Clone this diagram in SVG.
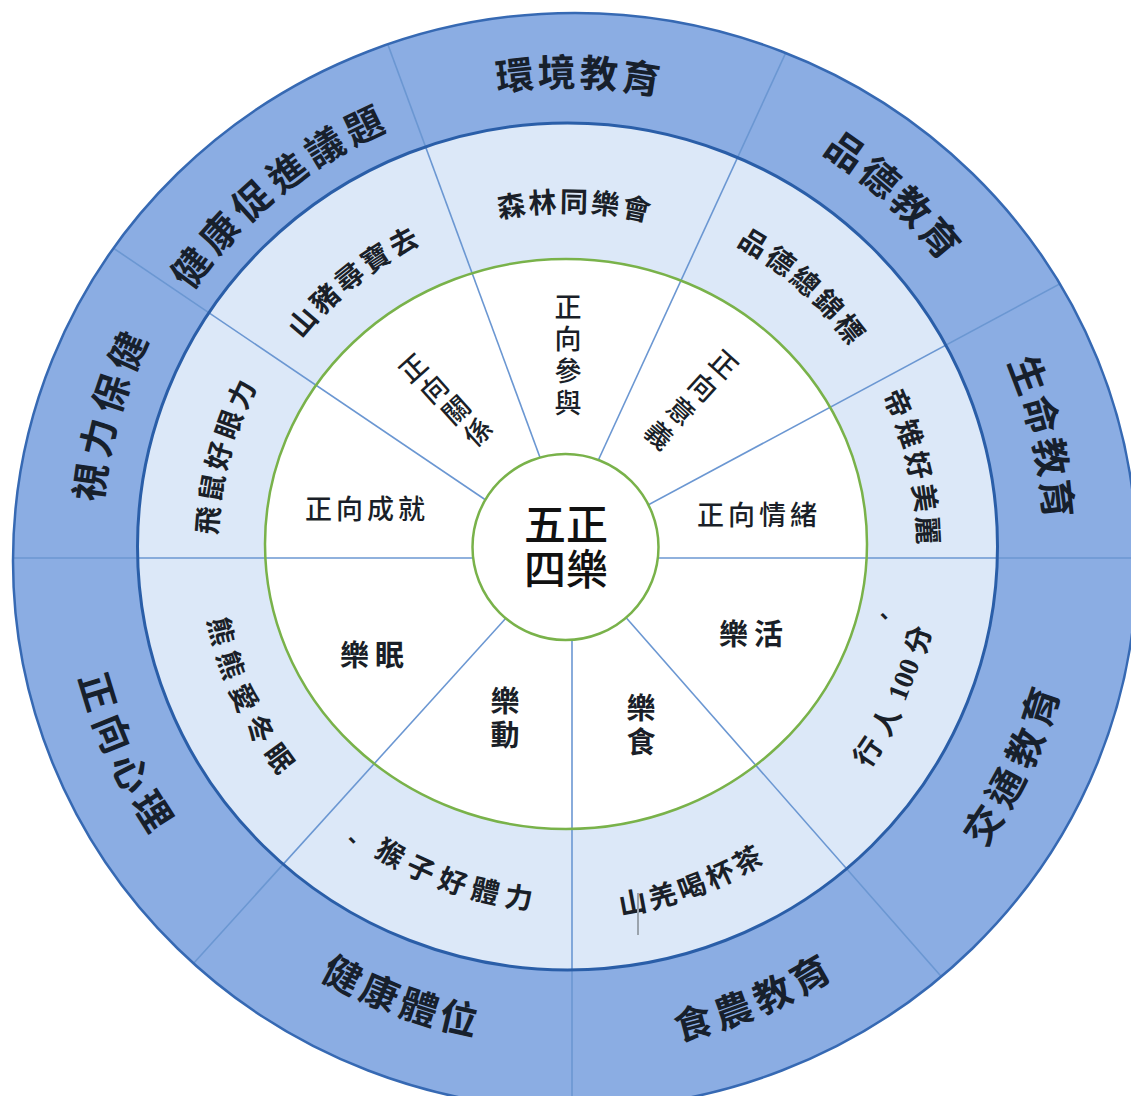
<svg xmlns="http://www.w3.org/2000/svg" width="1131" height="1096" viewBox="0 0 1131 1096">
<defs>
<clipPath id="clipOuter"><ellipse cx="575" cy="561" rx="562" ry="548"/></clipPath>
<style>
text{font-family:"Noto Sans CJK TC","Noto Sans CJK SC",sans-serif;text-anchor:middle;dominant-baseline:central;fill:#1a1f28}
.o text{font-size:38px;font-weight:700;fill:#17202c}
.m text{font-size:28px;font-weight:700}
.i text{font-size:27px;font-weight:500}
.l text{font-size:29px;font-weight:700}
.num{font-family:"Liberation Serif",serif;font-weight:400}
.spoke{stroke:#6b97d2;stroke-width:1.6;fill:none}
</style>
</defs>
<rect width="1131" height="1096" fill="#ffffff"/>
<g id="rings">
<ellipse cx="575" cy="561" rx="562" ry="548" fill="#8badE3"/>
<ellipse cx="567.5" cy="546.5" rx="430" ry="423.5" fill="#dce8f8"/>
<ellipse cx="566" cy="544" rx="301" ry="285" fill="#ffffff"/>
</g>
<g id="connectors" clip-path="url(#clipOuter)">
<line class="spoke" x1="545" y1="471" x2="377" y2="15"/>
<line class="spoke" x1="591" y1="476" x2="799" y2="24"/>
<line class="spoke" x1="635" y1="512" x2="1123" y2="250"/>
<line class="spoke" x1="640" y1="558" x2="1140" y2="558"/>
<line class="spoke" x1="615" y1="605" x2="997" y2="1040"/>
<line class="spoke" x1="572" y1="600" x2="572" y2="1100"/>
<line class="spoke" x1="516" y1="607" x2="126" y2="1038"/>
<line class="spoke" x1="490" y1="558" x2="0" y2="558"/>
<line class="spoke" x1="499" y1="509" x2="-11" y2="164"/>
</g>
<g id="ring-strokes" fill="none">
<ellipse cx="575" cy="561" rx="562" ry="548" stroke="#3669b3" stroke-width="2.5"/>
<ellipse cx="567.5" cy="546.5" rx="430" ry="423.5" stroke="#2a5ea8" stroke-width="3"/>
<ellipse cx="566" cy="544" rx="301" ry="285" stroke="#79b24a" stroke-width="2.5"/>
</g>
<g id="center">
<circle cx="565.5" cy="547" r="93" fill="#ffffff" stroke="#79b24a" stroke-width="2.5"/>
<text style="font-size:42px;font-weight:500;fill:#111"><tspan x="566" y="521">五正</tspan><tspan x="566" y="566">四樂</tspan></text>
</g>
<g id="outer-huanjing" class="o">
<text transform="rotate(-6.32 567 549)" x="567" y="70">環</text>
<text transform="rotate(-1.24 567 549)" x="567" y="70">境</text>
<text transform="rotate(3.84 567 549)" x="567" y="70">教</text>
<text transform="rotate(8.92 567 549)" x="567" y="70">育</text>
</g>
<g id="outer-pinde" class="o">
<text transform="rotate(35.03 567 549)" x="567" y="61">品</text>
<text transform="rotate(40.08 567 549)" x="567" y="61">德</text>
<text transform="rotate(45.13 567 549)" x="567" y="61">教</text>
<text transform="rotate(50.18 567 549)" x="567" y="61">育</text>
</g>
<g id="outer-shengming" class="o">
<text transform="rotate(69.3 567 549)" x="567" y="54">生</text>
<text transform="rotate(74.2 567 549)" x="567" y="54">命</text>
<text transform="rotate(79.2 567 549)" x="567" y="54">教</text>
<text transform="rotate(84.1 567 549)" x="567" y="54">育</text>
</g>
<g id="outer-jiaotong" class="o">
<text transform="rotate(-56.44 567 549)" x="567" y="1046">交</text>
<text transform="rotate(-61.48 567 549)" x="567" y="1046">通</text>
<text transform="rotate(-66.52 567 549)" x="567" y="1046">教</text>
<text transform="rotate(-71.56 567 549)" x="567" y="1046">育</text>
</g>
<g id="outer-shinong" class="o">
<text transform="rotate(-14.9 567 549)" x="567" y="1037">食</text>
<text transform="rotate(-19.8 567 549)" x="567" y="1037">農</text>
<text transform="rotate(-24.8 567 549)" x="567" y="1037">教</text>
<text transform="rotate(-29.7 567 549)" x="567" y="1037">育</text>
</g>
<g id="outer-jiankangtiwei" class="o">
<text transform="rotate(27.8 567 549)" x="567" y="1028">健</text>
<text transform="rotate(22.9 567 549)" x="567" y="1028">康</text>
<text transform="rotate(17.9 567 549)" x="567" y="1028">體</text>
<text transform="rotate(13.0 567 549)" x="567" y="1028">位</text>
</g>
<g id="outer-zhengxiangxinli" class="o">
<text transform="rotate(73.1 567 549)" x="567" y="1037">正</text>
<text transform="rotate(67.9 567 549)" x="567" y="1037">向</text>
<text transform="rotate(62.8 567 549)" x="567" y="1037">心</text>
<text transform="rotate(57.7 567 549)" x="567" y="1037">理</text>
</g>
<g id="outer-shili" class="o">
<text transform="rotate(278.0 567 549)" x="567" y="65">視</text>
<text transform="rotate(283.4 567 549)" x="567" y="65">力</text>
<text transform="rotate(288.8 567 549)" x="567" y="65">保</text>
<text transform="rotate(294.2 567 549)" x="567" y="65">健</text>
</g>
<g id="outer-jiankangcujin" class="o">
<text transform="rotate(306.8 567 549)" x="567" y="77">健</text>
<text transform="rotate(312.3 567 549)" x="567" y="77">康</text>
<text transform="rotate(317.8 567 549)" x="567" y="77">促</text>
<text transform="rotate(323.4 567 549)" x="567" y="77">進</text>
<text transform="rotate(328.9 567 549)" x="567" y="77">議</text>
<text transform="rotate(334.4 567 549)" x="567" y="77">題</text>
</g>
<g id="mid-senlin" class="m">
<text transform="rotate(-9.23 567 549)" x="567" y="200">森</text>
<text transform="rotate(-4.04 567 549)" x="567" y="200">林</text>
<text transform="rotate(1.15 567 549)" x="567" y="200">同</text>
<text transform="rotate(6.34 567 549)" x="567" y="200">樂</text>
<text transform="rotate(11.53 567 549)" x="567" y="200">會</text>
</g>
<g id="mid-pinde" class="m">
<text transform="rotate(31.36 567 549)" x="567" y="189">品</text>
<text transform="rotate(36.53 567 549)" x="567" y="189">德</text>
<text transform="rotate(41.7 567 549)" x="567" y="189">總</text>
<text transform="rotate(46.87 567 549)" x="567" y="189">錦</text>
<text transform="rotate(52.04 567 549)" x="567" y="189">標</text>
</g>
<g id="mid-dizhi" class="m">
<text transform="rotate(66.18 567 549)" x="567" y="186">帝</text>
<text transform="rotate(71.39 567 549)" x="567" y="186">雉</text>
<text transform="rotate(76.6 567 549)" x="567" y="186">好</text>
<text transform="rotate(81.81 567 549)" x="567" y="186">美</text>
<text transform="rotate(87.02 567 549)" x="567" y="186">麗</text>
</g>
<g id="mid-xingren" class="m">
<text transform="rotate(-56 567 549)" x="567" y="910">行</text>
<text transform="rotate(-61.7 567 549)" x="567" y="910">人</text>
<text class="num" transform="rotate(-68.8 567 549)" x="567" y="910">100</text>
<text transform="rotate(-75.5 567 549)" x="567" y="910">分</text>
<text x="884" y="614" style="font-size:22px">、</text>
</g>
<g id="mid-shanqiang" class="m">
<text transform="rotate(-10.5 567 549)" x="567" y="907">山</text>
<text transform="rotate(-15.4 567 549)" x="567" y="907">羌</text>
<text transform="rotate(-20.3 567 549)" x="567" y="907">喝</text>
<text transform="rotate(-25.2 567 549)" x="567" y="907">杯</text>
<text transform="rotate(-30.1 567 549)" x="567" y="907">茶</text>
<line x1="638" y1="893" x2="638" y2="935" stroke="#9aa3ad" stroke-width="2"/>
</g>
<g id="mid-houzi" class="m">
<text x="352" y="838" style="font-size:22px">、</text>
<text transform="rotate(30.14 567 549)" x="567" y="899">猴</text>
<text transform="rotate(24.57 567 549)" x="567" y="899">子</text>
<text transform="rotate(19 567 549)" x="567" y="899">好</text>
<text transform="rotate(13.43 567 549)" x="567" y="899">體</text>
<text transform="rotate(7.86 567 549)" x="567" y="899">力</text>
</g>
<g id="mid-xiongxiong" class="m">
<text transform="rotate(76.6 567 549)" x="567" y="903">熊</text>
<text transform="rotate(70.96 567 549)" x="567" y="903">熊</text>
<text transform="rotate(65.3 567 549)" x="567" y="903">愛</text>
<text transform="rotate(59.64 567 549)" x="567" y="903">冬</text>
<text transform="rotate(53.98 567 549)" x="567" y="903">眠</text>
</g>
<g id="mid-feishu" class="m">
<text transform="rotate(274.56 567 549)" x="567" y="187">飛</text>
<text transform="rotate(279.78 567 549)" x="567" y="187">鼠</text>
<text transform="rotate(285 567 549)" x="567" y="187">好</text>
<text transform="rotate(290.22 567 549)" x="567" y="187">眼</text>
<text transform="rotate(295.44 567 549)" x="567" y="187">力</text>
</g>
<g id="mid-shanzhu" class="m">
<text transform="rotate(310.62 567 549)" x="567" y="199">山</text>
<text transform="rotate(315.96 567 549)" x="567" y="199">豬</text>
<text transform="rotate(321.3 567 549)" x="567" y="199">尋</text>
<text transform="rotate(326.64 567 549)" x="567" y="199">寶</text>
<text transform="rotate(331.98 567 549)" x="567" y="199">去</text>
</g>
<g id="in-canyu" class="i">
<text x="568" y="305">正</text>
<text x="568" y="337">向</text>
<text x="568" y="369">參</text>
<text x="568" y="401">與</text>
</g>
<g id="in-guanxi" class="i">
<text transform="rotate(-42 412 367)" x="412" y="367">正</text>
<text transform="rotate(-42 433 388)" x="433" y="388">向</text>
<text transform="rotate(-42 455 409)" x="455" y="409">關</text>
<text transform="rotate(-42 477 431)" x="477" y="431">係</text>
</g>
<g id="in-yiyi" class="i">
<text transform="rotate(42 725 363)" x="725" y="363">正</text>
<text transform="rotate(42 704 386)" x="704" y="386">向</text>
<text transform="rotate(42 682 410)" x="682" y="410">意</text>
<text transform="rotate(42 660 434)" x="660" y="434">義</text>
</g>
<g id="in-chengjiu" class="i"><text x="367" y="507" letter-spacing="4">正向成就</text></g>
<g id="in-qingxu" class="i"><text x="759" y="513" letter-spacing="4">正向情緒</text></g>
<g id="in-lemian" class="l"><text x="375" y="653" letter-spacing="6">樂眠</text></g>
<g id="in-lehuo" class="l"><text x="754" y="632" letter-spacing="6">樂活</text></g>
<g id="in-ledong" class="l"><text><tspan x="505" y="699">樂</tspan><tspan x="505" y="733">動</tspan></text></g>
<g id="in-leshi" class="l"><text><tspan x="641" y="706">樂</tspan><tspan x="641" y="740">食</tspan></text></g>
</svg>
